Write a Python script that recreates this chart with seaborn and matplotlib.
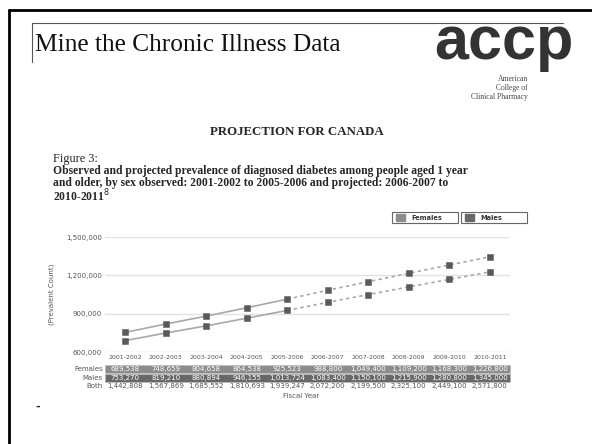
import pandas as pd
import matplotlib.pyplot as plt
import matplotlib.transforms as mtransforms
from matplotlib.lines import Line2D
from matplotlib.patches import Rectangle
import seaborn as sns

sns.set_theme(style="white")
plt.rcParams['font.family'] = ['DejaVu Sans']

# -------------------- DATA --------------------------------
years = ["2001-2002", "2002-2003", "2003-2004", "2004-2005", "2005-2006",
         "2006-2007", "2007-2008", "2008-2009", "2009-2010", "2010-2011"]
females = [689538, 748659, 804658, 864538, 925523,
           988800, 1049400, 1109200, 1168300, 1226800]
males = [753270, 819210, 880894, 946155, 1013724,
         1083400, 1150100, 1215900, 1280800, 1345000]
both = [1442808, 1567869, 1685552, 1810693, 1939247,
        2072200, 2199500, 2325100, 2449100, 2571800]
n_observed = 5   # 2001-2002 .. 2005-2006 observed, rest projected

df = pd.DataFrame({"idx": list(range(len(years))) * 2,
                   "count": females + males,
                   "sex": ["Females"] * len(years) + ["Males"] * len(years)})
obs = df[df["idx"] < n_observed]
proj = df[df["idx"] >= n_observed - 1]

# -------------------- FIGURE ------------------------------
fig = plt.figure(figsize=(5.92, 4.44), dpi=100)
fig.patch.set_facecolor("white")

# slide frame
fig.add_artist(Line2D([9/592, 1], [1-10/444, 1-10/444], color="black", lw=2))
fig.add_artist(Line2D([9/592, 9/592], [0, 1-10/444], color="black", lw=2))
fig.add_artist(Line2D([32/592, 563/592], [1-23/444, 1-23/444], color="#555555", lw=0.8))
fig.add_artist(Line2D([32/592, 32/592], [1-62/444, 1-23/444], color="#555555", lw=0.8))

fig.text(35/592, 1-45/444, "Mine the Chronic Illness Data", family="Liberation Serif",
         fontsize=18.3, va="center", ha="left", color="#111111")

# logo
fig.text(504/592, 1-44/444, "accp", family="Liberation Sans", weight="bold",
         fontsize=44, va="center", ha="center", color="#333333")
for i, s in enumerate(["American", "College of", "Clinical Pharmacy"]):
    fig.text(528/592, 1-(79 + 9*i)/444, s, family="Liberation Serif",
             fontsize=5.5, ha="right", va="center", color="#444444")

fig.text(297/592, 1-132/444, "PROJECTION FOR CANADA", family="Liberation Serif",
         weight="bold", fontsize=9.3, ha="center", va="center")
fig.text(53/592, 1-159/444, "Figure 3:", family="Liberation Serif",
         fontsize=8.8, ha="left", va="center")
caption = ["Observed and projected prevalence of diagnosed diabetes among people aged 1 year",
           "and older, by sex observed: 2001-2002 to 2005-2006 and projected: 2006-2007 to",
           "2010-2011$^{8}$"]
fig.text(53/592, 1-165/444, "\n".join(caption), family="Liberation Serif",
         weight="bold", fontsize=8.4, ha="left", va="top", linespacing=0.95)

# -------------------- CHART -------------------------------
ax = fig.add_axes([105/592, 1-352/444, 405/592, 115/444])
line_col = "#a8a8a8"
mark_col = "#5a5a5a"
for sex in ["Females", "Males"]:
    sns.lineplot(data=obs[obs["sex"] == sex], x="idx", y="count", ax=ax,
                 color=line_col, lw=1.2, legend=False)
    sns.lineplot(data=proj[proj["sex"] == sex], x="idx", y="count", ax=ax,
                 color=line_col, lw=1.2, linestyle=(0, (2, 2)), legend=False)
sns.scatterplot(data=df, x="idx", y="count", ax=ax, marker="s", s=22,
                color=mark_col, edgecolor=mark_col, legend=False, zorder=3)

ax.set_xlim(-0.5, len(years) - 0.5)
ax.set_ylim(600000, 1500000)
ax.set_yticks([600000, 900000, 1200000, 1500000])
ax.set_yticklabels([f"{v:,}" for v in [600000, 900000, 1200000, 1500000]],
                   fontsize=5, color="#555555")
ax.set_xticks(range(len(years)))
ax.set_xticklabels(years, fontsize=4.5, color="#555555")
ax.tick_params(length=0, pad=2)
ax.grid(axis="y", color="#e2e2e2", lw=1)
for sp in ax.spines.values():
    sp.set_visible(False)
ax.set_xlabel("")
ax.set_ylabel("(Prevalent Count)", fontsize=5, color="#555555", labelpad=8)

# data table under the axis
tr = mtransforms.blended_transform_factory(ax.transData, ax.transAxes)
rows = [("Females", females, "#8c8c8c", "white", -0.148),
        ("Males", males, "#686868", "white", -0.226),
        ("Both", both, None, "#555555", -0.296)]
for name, vals, band, tcol, yy in rows:
    if band:
        ax.add_patch(Rectangle((-0.5, yy - 0.035), len(years), 0.07, transform=tr,
                               facecolor=band, edgecolor="#bbbbbb", lw=0.4,
                               clip_on=False))
    ax.text(-0.55, yy, name, transform=tr, ha="right", va="center",
            fontsize=5, color="#555555")
    for i, v in enumerate(vals):
        ax.text(i, yy, f"{v:,}", transform=tr, ha="center", va="center",
                fontsize=5, color=tcol)
ax.text(0.485, -0.38, "Fiscal Year", transform=ax.transAxes, ha="center",
        va="center", fontsize=5, color="#555555")

# legend boxes
for x0, lab, col in [(392, "Females", "#8c8c8c"), (461, "Males", "#686868")]:
    fig.add_artist(Rectangle((x0/592, 1-223/444), 66/592, 11/444, facecolor="white",
                             edgecolor="#666666", lw=0.8))
    fig.add_artist(Rectangle(((x0 + 4)/592, 1-221/444), 9/592, 7/444,
                             facecolor=col, edgecolor=col))
    fig.text((x0 + 19)/592, 1-217.5/444, lab, fontsize=4.8, weight="bold",
             ha="left", va="center", color="#333333")

fig.text(38/592, 1-407/444, "-", fontsize=8, weight="bold", ha="center", va="center")

plt.savefig("out.png", dpi=100)
